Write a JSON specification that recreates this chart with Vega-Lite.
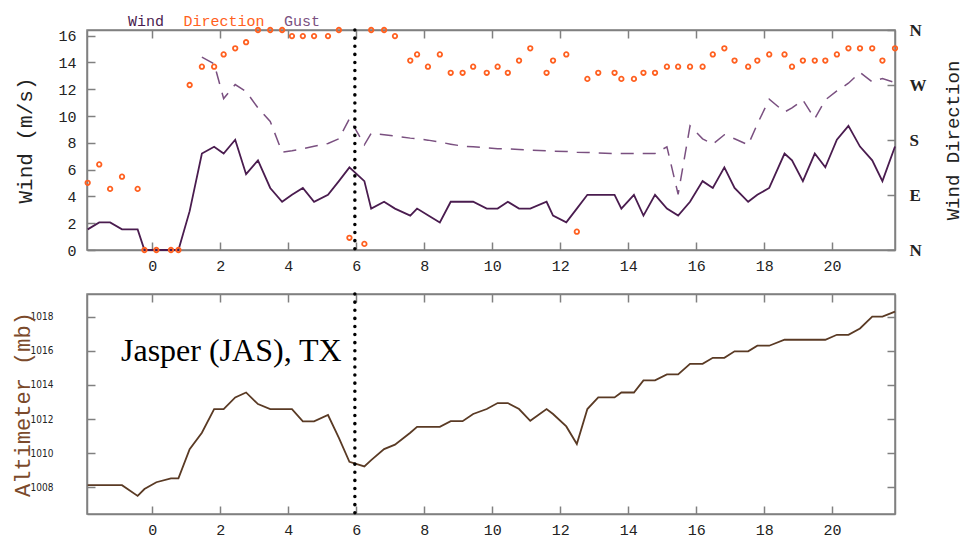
{
  "$schema": "https://vega.github.io/schema/vega-lite/v6.json",
  "background": "white",
  "padding": {"left": 10, "top": 13, "right": 0, "bottom": 0},
  "datasets": {
    "obs": [
      {"t":-1.9,"w":1.54,"g":null,"d":110,"a":1008.13},
      {"t":-1.56,"w":2.06,"g":null,"d":140,"a":1008.13},
      {"t":-1.24,"w":2.06,"g":null,"d":100,"a":1008.13},
      {"t":-0.89,"w":1.54,"g":null,"d":120,"a":1008.13},
      {"t":-0.43,"w":1.54,"g":null,"d":100,"a":1007.5},
      {"t":-0.23,"w":0,"g":null,"d":0,"a":1007.9},
      {"t":0.12,"w":0,"g":null,"d":0,"a":1008.3},
      {"t":0.55,"w":0,"g":null,"d":0,"a":1008.53},
      {"t":0.77,"w":0,"g":null,"d":0,"a":1008.53},
      {"t":1.1,"w":2.9,"g":null,"d":270,"a":1010.24},
      {"t":1.46,"w":7.2,"g":14.4,"d":300,"a":1011.2},
      {"t":1.82,"w":7.7,"g":13.9,"d":300,"a":1012.59},
      {"t":2.1,"w":7.2,"g":11.3,"d":320,"a":1012.59},
      {"t":2.44,"w":8.23,"g":12.35,"d":330,"a":1013.27},
      {"t":2.76,"w":5.66,"g":11.83,"d":340,"a":1013.56},
      {"t":3.11,"w":6.69,"g":10.6,"d":360,"a":1012.88},
      {"t":3.47,"w":4.63,"g":9.6,"d":360,"a":1012.59},
      {"t":3.82,"w":3.6,"g":7.3,"d":360,"a":1012.59},
      {"t":4.11,"w":4.12,"g":7.4,"d":350,"a":1012.59},
      {"t":4.43,"w":4.63,"g":7.55,"d":350,"a":1011.87},
      {"t":4.76,"w":3.6,"g":7.75,"d":350,"a":1011.87},
      {"t":5.17,"w":4.12,"g":7.95,"d":350,"a":1012.24},
      {"t":5.49,"w":5.14,"g":8.3,"d":360,"a":1010.9},
      {"t":5.8,"w":6.17,"g":9.8,"d":20,"a":1009.5},
      {"t":6.24,"w":5.14,"g":7.85,"d":10,"a":1009.23},
      {"t":6.44,"w":3.09,"g":8.7,"d":360,"a":1009.6},
      {"t":6.82,"w":3.6,"g":8.6,"d":360,"a":1010.24},
      {"t":7.14,"w":3.09,"g":8.5,"d":350,"a":1010.5},
      {"t":7.59,"w":2.57,"g":8.35,"d":310,"a":1011.2},
      {"t":7.79,"w":3.09,"g":8.3,"d":320,"a":1011.55},
      {"t":8.11,"w":2.6,"g":8.2,"d":300,"a":1011.55},
      {"t":8.46,"w":2.06,"g":8.05,"d":320,"a":1011.55},
      {"t":8.78,"w":3.6,"g":7.9,"d":290,"a":1011.88},
      {"t":9.13,"w":3.6,"g":7.75,"d":290,"a":1011.88},
      {"t":9.44,"w":3.6,"g":7.7,"d":300,"a":1012.3},
      {"t":9.84,"w":3.09,"g":7.62,"d":290,"a":1012.59},
      {"t":10.16,"w":3.09,"g":7.56,"d":300,"a":1012.94},
      {"t":10.46,"w":3.6,"g":7.55,"d":290,"a":1012.94},
      {"t":10.79,"w":3.09,"g":7.5,"d":310,"a":1012.59},
      {"t":11.12,"w":3.09,"g":7.46,"d":330,"a":1011.9},
      {"t":11.6,"w":3.6,"g":7.4,"d":290,"a":1012.59},
      {"t":11.79,"w":2.57,"g":7.38,"d":310,"a":1012.3},
      {"t":12.18,"w":2.06,"g":7.35,"d":320,"a":1011.57},
      {"t":12.49,"w":3.09,"g":7.3,"d":30,"a":1010.54},
      {"t":12.8,"w":4.12,"g":7.28,"d":280,"a":1012.59},
      {"t":13.12,"w":4.12,"g":7.24,"d":290,"a":1013.27},
      {"t":13.6,"w":4.12,"g":7.2,"d":290,"a":1013.27},
      {"t":13.8,"w":3.09,"g":7.2,"d":280,"a":1013.56},
      {"t":14.17,"w":4.12,"g":7.2,"d":280,"a":1013.56},
      {"t":14.45,"w":2.57,"g":7.2,"d":290,"a":1014.27},
      {"t":14.79,"w":4.12,"g":7.2,"d":290,"a":1014.27},
      {"t":15.14,"w":3.09,"g":7.7,"d":300,"a":1014.62},
      {"t":15.47,"w":2.57,"g":4.16,"d":300,"a":1014.62},
      {"t":15.82,"w":3.6,"g":9.26,"d":300,"a":1015.24},
      {"t":16.19,"w":5.14,"g":8.3,"d":300,"a":1015.24},
      {"t":16.49,"w":4.63,"g":7.9,"d":320,"a":1015.59},
      {"t":16.83,"w":6.17,"g":8.6,"d":330,"a":1015.59},
      {"t":17.13,"w":4.63,"g":8.3,"d":310,"a":1015.97},
      {"t":17.53,"w":3.6,"g":7.85,"d":300,"a":1015.97},
      {"t":17.8,"w":4.12,"g":9.4,"d":310,"a":1016.3},
      {"t":18.15,"w":4.63,"g":11.25,"d":320,"a":1016.3},
      {"t":18.6,"w":7.2,"g":10.3,"d":320,"a":1016.65},
      {"t":18.82,"w":6.69,"g":10.6,"d":300,"a":1016.65},
      {"t":19.14,"w":5.14,"g":11.2,"d":310,"a":1016.65},
      {"t":19.49,"w":7.2,"g":9.8,"d":310,"a":1016.65},
      {"t":19.8,"w":6.17,"g":11.2,"d":310,"a":1016.65},
      {"t":20.14,"w":8.23,"g":11.87,"d":320,"a":1016.94},
      {"t":20.48,"w":9.26,"g":12.45,"d":330,"a":1016.94},
      {"t":20.82,"w":7.72,"g":13.25,"d":330,"a":1017.31},
      {"t":21.18,"w":6.69,"g":12.55,"d":330,"a":1018.0},
      {"t":21.48,"w":5.14,"g":12.8,"d":310,"a":1018.0},
      {"t":21.85,"w":7.72,"g":12.5,"d":330,"a":1018.3}
    ],
    "marker": [{"t": 5.96}],
    "note": [{"t": -0.92, "a": 1015.42, "label": "Jasper (JAS), TX"}]
  },
  "spacing": 17,
  "vconcat": [
    {
      "width": 808,
      "height": 220,
      "layer": [
        {
          "data": {"name": "obs"},
          "mark": {"type": "line", "strokeWidth": 1.8},
          "encoding": {
            "x": {"field": "t", "type": "quantitative",
              "scale": {"domain": [-1.92, 21.85], "nice": false, "zero": false},
              "axis": {"orient": "bottom", "values": [0,2,4,6,8,10,12,14,16,18,20], "title": null, "labelFontSize": 15, "labelPadding": 16}},
            "y": {"field": "w", "type": "quantitative",
              "scale": {"domain": [0, 16.42], "nice": false},
              "axis": {"orient": "left", "values": [0,2,4,6,8,10,12,14,16], "title": "Wind (m/s)", "titleFontSize": 21, "labelFontSize": 15, "labelPadding": 19, "titlePadding": 22}},
            "color": {"datum": "Wind",
              "scale": {"domain": ["Wind", "Direction", "Gust"], "range": ["#4a1c4f", "#ff6020", "#7a5080"]},
              "legend": {"orient": "none", "legendX": 26, "legendY": -17, "direction": "horizontal", "title": null,
                "symbolSize": 0, "symbolStrokeWidth": 0, "symbolOpacity": 0, "labelOffset": 0, "columnPadding": 3.5,
                "labelFont": "Liberation Mono", "labelFontSize": 15,
                "labelColor": {"expr": "datum.label == 'Wind' ? '#4a1c4f' : datum.label == 'Direction' ? '#ff6020' : '#7a5080'"}}}
          }
        },
        {
          "data": {"name": "obs"},
          "mark": {"type": "line", "strokeWidth": 1.5, "strokeDash": [13, 9]},
          "encoding": {
            "x": {"field": "t", "type": "quantitative",
              "axis": {"orient": "top", "values": [0,2,4,6,8,10,12,14,16,18,20], "labels": false, "title": null}},
            "y": {"field": "g", "type": "quantitative", "scale": {"domain": [0, 16.42], "nice": false}, "axis": null},
            "color": {"datum": "Gust"}
          }
        },
        {
          "data": {"name": "obs"},
          "mark": {"type": "point", "filled": false, "size": 20, "strokeWidth": 1.8, "opacity": 1},
          "encoding": {
            "x": {"field": "t", "type": "quantitative", "axis": null},
            "y": {"field": "d", "type": "quantitative", "scale": {"domain": [0, 360], "nice": false},
              "axis": {"orient": "right", "values": [0, 90, 180, 270, 360],
                "labelExpr": "datum.value == 90 ? 'E' : datum.value == 180 ? 'S' : datum.value == 270 ? 'W' : 'N'",
                "labelFont": "Liberation Serif", "labelFontWeight": "bold", "labelFontSize": 17, "labelPadding": 22,
                "title": "Wind Direction", "titleAngle": 270, "titleFontSize": 19, "titlePadding": 36}},
            "color": {"datum": "Direction"}
          }
        },
        {
          "data": {"name": "marker"},
          "mark": {"type": "rule", "color": "black", "strokeWidth": 3.5, "strokeDash": [0.1, 8], "strokeCap": "round"},
          "encoding": {"x": {"field": "t", "type": "quantitative", "axis": null}}
        }
      ],
      "resolve": {"scale": {"y": "independent"}, "axis": {"x": "independent", "y": "independent"}}
    },
    {
      "width": 808,
      "height": 220,
      "layer": [
        {
          "data": {"name": "obs"},
          "mark": {"type": "line", "strokeWidth": 1.8, "color": "#5a3a24"},
          "encoding": {
            "x": {"field": "t", "type": "quantitative",
              "scale": {"domain": [-1.92, 21.85], "nice": false, "zero": false},
              "axis": {"orient": "bottom", "values": [0,2,4,6,8,10,12,14,16,18,20], "title": null, "labelFontSize": 15, "labelPadding": 16}},
            "y": {"field": "a", "type": "quantitative",
              "scale": {"domain": [1006.44, 1019.33], "nice": false, "zero": false},
              "axis": {"orient": "left", "values": [1008,1010,1012,1014,1016,1018], "format": "d", "title": "Altimeter (mb)", "titleColor": "#7b4a2b", "titleFontSize": 22,
                "labelFont": "DejaVu Sans Condensed, Liberation Sans Narrow, Liberation Sans", "labelFontSize": 10, "labelPadding": 42, "titlePadding": -4}}
          }
        },
        {
          "data": {"name": "note"},
          "mark": {"type": "text", "font": "Liberation Serif", "fontSize": 32, "align": "left", "baseline": "alphabetic", "color": "black"},
          "encoding": {
            "x": {"field": "t", "type": "quantitative",
              "axis": {"orient": "top", "values": [0,2,4,6,8,10,12,14,16,18,20], "labels": false, "title": null}},
            "y": {"field": "a", "type": "quantitative",
              "axis": {"orient": "right", "values": [1008,1010,1012,1014,1016,1018], "labels": false, "title": null}},
            "text": {"field": "label"}
          }
        },
        {
          "data": {"name": "marker"},
          "mark": {"type": "rule", "color": "black", "strokeWidth": 3.5, "strokeDash": [0.1, 8], "strokeCap": "round"},
          "encoding": {"x": {"field": "t", "type": "quantitative", "axis": null}}
        }
      ],
      "resolve": {"axis": {"x": "independent", "y": "independent"}}
    }
  ],
  "config": {
    "view": {"stroke": "#808080", "strokeWidth": 1.5},
    "axis": {"grid": false, "domainColor": "#808080", "domainWidth": 1.5, "tickColor": "#808080", "tickWidth": 1.5, "tickSize": -8,
      "labelFont": "Liberation Mono", "labelColor": "#222222", "titleFont": "Liberation Mono", "titleColor": "#222222", "titleFontWeight": "normal"}
  }
}
